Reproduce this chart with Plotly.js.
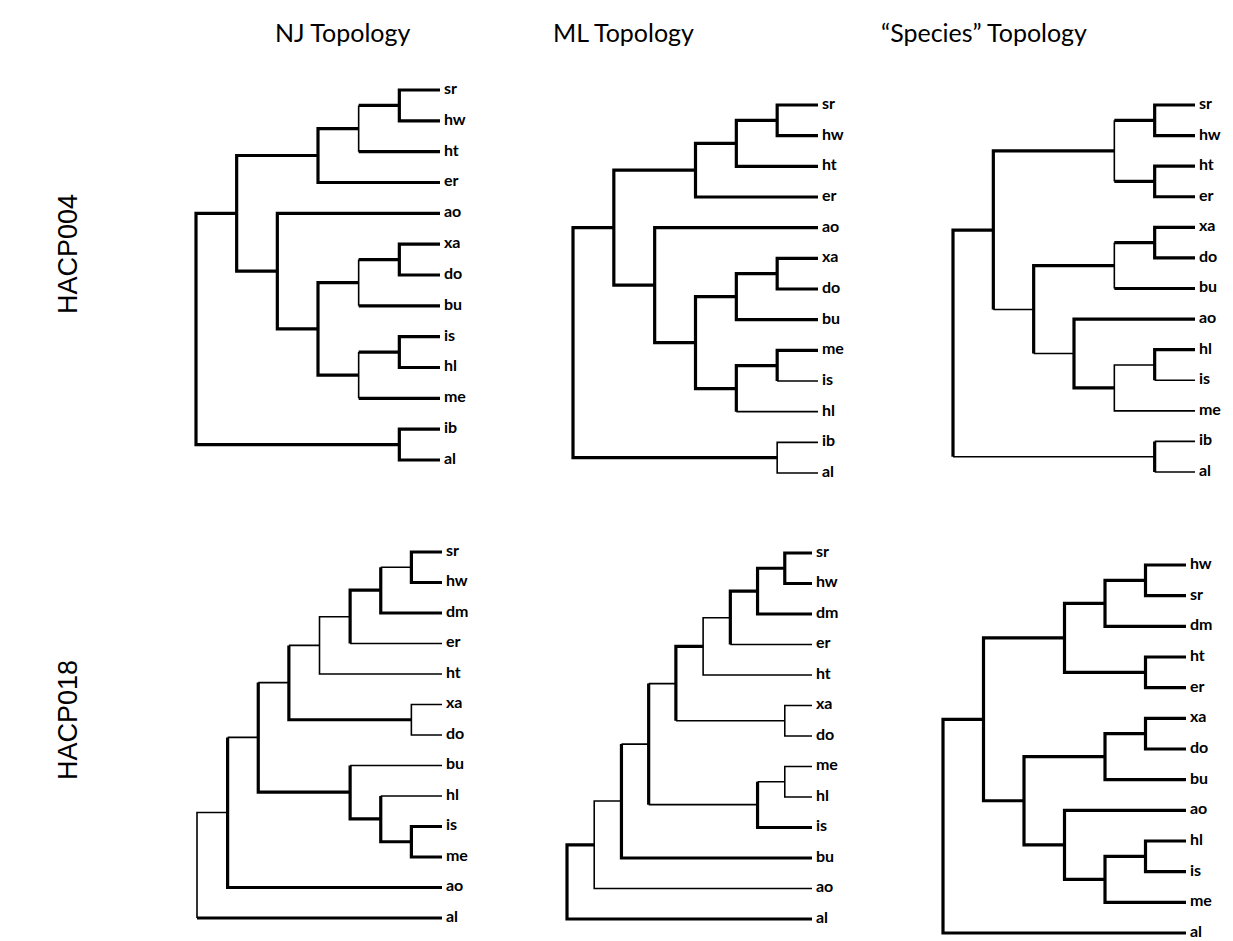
<!DOCTYPE html>
<html><head><meta charset="utf-8">
<script src="https://cdn.plot.ly/plotly-3.0.1.min.js"></script>
<style>html,body{margin:0;padding:0;background:#fff;}#chart{width:1233px;height:941px;}</style>
</head><body><div id="chart"></div>
<script>
// ---------- DATA ----------
const columnTitles = ["NJ Topology", "ML Topology", "\u201CSpecies\u201D Topology"];
const rowTitles = ["HACP004", "HACP018"];

// Tree topologies (nested clades, leaves in display order, top to bottom)
const njTree004 = [[[[["sr","hw"],"ht"],"er"],["ao",[[["xa","do"],"bu"],[["is","hl"],"me"]]]],["ib","al"]];
const mlTree004 = [[[[["sr","hw"],"ht"],"er"],["ao",[[["xa","do"],"bu"],[["me","is"],"hl"]]]],["ib","al"]];
const spTree004 = [[[["sr","hw"],["ht","er"]],[[["xa","do"],"bu"],["ao",[["hl","is"],"me"]]]],["ib","al"]];
const njTree018 = [[[[[[[["sr","hw"],"dm"],"er"],"ht"],["xa","do"]],["bu",["hl",["is","me"]]]],"ao"],"al"];
const mlTree018 = [[[[[[[[["sr","hw"],"dm"],"er"],"ht"],["xa","do"]],[["me","hl"],"is"]],"bu"],"ao"],"al"];
const spTree018 = [[[[["hw","sr"],"dm"],["ht","er"]],[[["xa","do"],"bu"],["ao",[["hl","is"],"me"]]]],"al"];

// Weakly supported branches (clade = "first-last" leaf; leaf = name)
const njWeakStems004 = [];
const njWeakVerts004 = ["sr-ht", "xa-bu", "is-me"];
const mlWeakStems004 = ["is", "hl", "ib", "al"];
const mlWeakVerts004 = ["ib-al"];
const spWeakStems004 = ["xa-me", "ao-me", "hl-is", "is", "me", "ib-al", "ib", "al"];
const spWeakVerts004 = ["sr-er", "xa-bu", "hl-me"];
const njWeakStems018 = ["sr-hw", "sr-er", "er", "sr-ht", "ht", "sr-do", "xa", "do", "bu", "hl", "sr-me", "sr-ao"];
const njWeakVerts018 = ["sr-ht", "xa-do", "sr-al"];
const mlWeakStems018 = ["sr-er", "er", "ht", "xa-do", "xa", "do", "sr-do", "me-is", "me-hl", "me", "hl", "sr-is", "sr-bu", "ao"];
const mlWeakVerts018 = ["sr-ht", "xa-do", "me-hl", "sr-ao"];
const spWeakStems018 = [];
const spWeakVerts018 = [];

// ---------- PANEL PLACEMENT (pixels) ----------
const W = 1233, H = 941;
const panels = [
  {tree: njTree004, ws: njWeakStems004, wv: njWeakVerts004, x0: 196, x1: 440, y0: 90,  y1: 460},
  {tree: mlTree004, ws: mlWeakStems004, wv: mlWeakVerts004, x0: 573, x1: 818, y0: 105, y1: 473},
  {tree: spTree004, ws: spWeakStems004, wv: spWeakVerts004, x0: 953, x1: 1195, y0: 105, y1: 472},
  {tree: njTree018, ws: njWeakStems018, wv: njWeakVerts018, x0: 197, x1: 442, y0: 552, y1: 918},
  {tree: mlTree018, ws: mlWeakStems018, wv: mlWeakVerts018, x0: 567, x1: 812, y0: 553, y1: 919},
  {tree: spTree018, ws: spWeakStems018, wv: spWeakVerts018, x0: 943, x1: 1186, y0: 565, y1: 933}
];
const THICK = 3.2, THIN = 1.6;

function layoutTree(tree) {
  const leaves = [];
  function walk(n) {
    if (typeof n === 'string') {
      const o = {name: n, leaf: true, y: leaves.length, h: 0, first: n, last: n};
      leaves.push(o); return o;
    }
    const kids = n.map(walk);
    return {kids, leaf: false,
      h: 1 + Math.max(...kids.map(k => k.h)),
      y: (kids[0].y + kids[kids.length - 1].y) / 2,
      first: kids[0].first, last: kids[kids.length - 1].last};
  }
  const root = walk(tree);
  (function setX(n) { n.x = root.h - n.h; if (n.kids) n.kids.forEach(setX); })(root);
  return {root, leaves, depth: root.h};
}
const keyOf = n => n.leaf ? n.name : n.first + '-' + n.last;

function polylines(root, ws, wv) {
  const out = [];
  (function visit(n) {
    if (n.leaf) return;
    const a = n.kids[0], b = n.kids[n.kids.length - 1];
    const parts = [
      {pts: [[a.x, a.y], [n.x, a.y]], thin: ws.includes(keyOf(a))},
      {pts: [[n.x, a.y], [n.x, b.y]], thin: wv.includes(keyOf(n))},
      {pts: [[n.x, b.y], [b.x, b.y]], thin: ws.includes(keyOf(b))}
    ];
    let cur = {pts: parts[0].pts.slice(), thin: parts[0].thin};
    for (let i = 1; i < parts.length; i++) {
      if (parts[i].thin === cur.thin) cur.pts.push(parts[i].pts[1]);
      else { out.push(cur); cur = {pts: parts[i].pts.slice(), thin: parts[i].thin}; }
    }
    out.push(cur);
    n.kids.forEach(visit);
  })(root);
  return out;
}

const traces = [];
const layout = {
  width: W, height: H, margin: {l: 0, r: 0, t: 0, b: 0},
  paper_bgcolor: '#fff', plot_bgcolor: '#fff', showlegend: false,
  annotations: []
};

panels.forEach((p, i) => {
  const idx = i + 1;
  const xa = 'x' + (idx === 1 ? '' : idx), ya = 'y' + (idx === 1 ? '' : idx);
  const T = layoutTree(p.tree);
  const n = T.leaves.length;
  const pad = 0.25;
  const xs = (p.x1 - p.x0) / T.depth, ys = (p.y1 - p.y0) / (n - 1);
  layout['xaxis' + (idx === 1 ? '' : idx)] = {
    domain: [(p.x0 - pad * xs) / W, (p.x1 + pad * xs) / W],
    range: [-pad, T.depth + pad], visible: false, fixedrange: true, anchor: ya
  };
  layout['yaxis' + (idx === 1 ? '' : idx)] = {
    domain: [1 - (p.y1 + pad * ys) / H, 1 - (p.y0 - pad * ys) / H],
    range: [n - 1 + pad, -pad], visible: false, fixedrange: true, anchor: xa
  };
  const polys = polylines(T.root, p.ws, p.wv);
  [true, false].forEach(thin => {
    const X = [], Y = [];
    polys.filter(q => q.thin === thin).forEach(q => {
      q.pts.forEach(pt => { X.push(pt[0]); Y.push(pt[1]); });
      X.push(null); Y.push(null);
    });
    traces.push({type: 'scatter', mode: 'lines', x: X, y: Y, xaxis: xa, yaxis: ya,
      line: {color: '#000', width: thin ? THIN : THICK, simplify: false},
      hoverinfo: 'skip', connectgaps: false});
  });
  traces.push({type: 'scatter', mode: 'text', xaxis: xa, yaxis: ya,
    x: T.leaves.map(() => T.depth), y: T.leaves.map(l => l.y),
    text: T.leaves.map(l => l.name), texttemplate: '\u00a0%{text}',
    textposition: 'middle right', cliponaxis: false,
    textfont: {family: 'Lato, "Open Sans", sans-serif', size: 16, color: '#000', weight: 'bold'},
    hoverinfo: 'skip'});
});

const titleX = [343, 623, 984];
columnTitles.forEach((t, i) => layout.annotations.push({
  text: t, xref: 'paper', yref: 'paper', x: titleX[i] / W, y: 1 - 32 / H,
  xanchor: 'center', yanchor: 'middle', showarrow: false,
  font: {family: 'Lato, "Open Sans", sans-serif', size: 25, color: '#000'}
}));
const rowY = [254, 720];
rowTitles.forEach((t, i) => layout.annotations.push({
  text: t, xref: 'paper', yref: 'paper', x: 68 / W, y: 1 - rowY[i] / H,
  xanchor: 'center', yanchor: 'middle', textangle: -90, showarrow: false,
  font: {family: '"Liberation Sans", Arial, sans-serif', size: 27, color: '#000'}
}));

Plotly.newPlot('chart', traces, layout, {staticPlot: true, displayModeBar: false});
</script></body></html>
